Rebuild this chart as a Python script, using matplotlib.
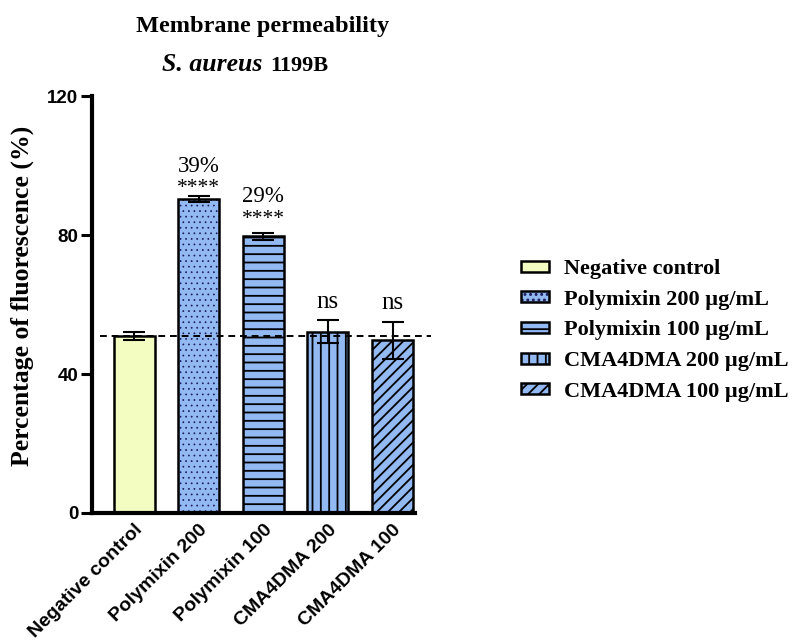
import numpy as np
import matplotlib
matplotlib.use("Agg")
import matplotlib.pyplot as plt

# data
groups = ["Negative control", "Polymixin 200", "Polymixin 100", "CMA4DMA 200", "CMA4DMA 100"]
legend_labels = ["Negative control", "Polymixin 200 \u00b5g/mL", "Polymixin 100 \u00b5g/mL",
                 "CMA4DMA 200 \u00b5g/mL", "CMA4DMA 100 \u00b5g/mL"]
means = [50.9, 90.4, 79.7, 52.1, 49.7]
errs = [1.2, 0.8, 1.0, 3.3, 5.4]
baseline = 50.9
pct_labels = ["", "39%", "29%", "", ""]
sig_labels = ["", "****", "****", "ns", "ns"]

fills = ["#F3FDC2", "#93B9F3", "#93B9F3", "#93B9F3", "#93B9F3"]
hatches = [None, "...", "--", "||", "///"]

serif = "Liberation Serif"
sans = "Liberation Sans"
plt.rcParams["hatch.linewidth"] = 1.3

fig = plt.figure(figsize=(7.92, 6.41), dpi=100)
ax = fig.add_axes([0.1162, 0.1997, 0.408, 0.6505])

x = np.arange(len(groups))
bars = ax.bar(x, means, width=0.635, color=fills, edgecolor="black", linewidth=1.8, zorder=2)
for b, h in zip(bars, hatches):
    if h:
        b.set_hatch(h)
bars[1]._hatch_color = (0.1, 0.1, 0.35, 1.0)
if hasattr(bars[1], "set_hatch_linewidth"):
    bars[1].set_hatch_linewidth(0.5)

ax.errorbar(x, means, yerr=errs, fmt="none", ecolor="black", elinewidth=1.5,
            capsize=8, capthick=1.5, zorder=3)

# dashed reference line at negative control level
ax.plot([-0.52, 4.6], [baseline, baseline], ls=(0, (3.5, 2.5)), color="black",
        lw=1.4, clip_on=False, zorder=4)

for i in range(len(groups)):
    top = means[i] + errs[i]
    if sig_labels[i] == "ns":
        ax.annotate("ns", (x[i], top), xytext=(0, 9), textcoords="offset points",
                    ha="center", va="baseline", fontsize=18, family=serif)
    elif sig_labels[i]:
        ax.annotate(sig_labels[i], (x[i], top), xytext=(0, 2 + 4 * (i - 1)),
                    textcoords="offset points", ha="center", va="baseline",
                    fontsize=15.5, family=serif)
        ax.annotate(pct_labels[i], (x[i], top), xytext=(0, 17.5 + 4.5 * (i - 1)),
                    textcoords="offset points", ha="center", va="baseline",
                    fontsize=16.5, family=serif)

ax.set_xlim(-0.65, 4.35)
ax.set_ylim(0, 120)
ax.set_yticks([0, 40, 80, 120])
ax.set_xticks(x)
ax.set_xticklabels(groups, rotation=45, ha="right", va="top", rotation_mode="anchor",
                   fontsize=14, fontweight="bold", family=sans)
for lab in ax.get_yticklabels():
    lab.set_fontsize(13.5)
    lab.set_fontweight("bold")
    lab.set_family(sans)
ax.tick_params(axis="y", length=8, width=2.2, pad=2)
ax.tick_params(axis="x", length=0, pad=6)
for s in ["top", "right"]:
    ax.spines[s].set_visible(False)
for s in ["left", "bottom"]:
    ax.spines[s].set_linewidth(3)

ax.set_ylabel("Percentage of fluorescence (%)", fontsize=18.5, fontweight="bold",
              family=serif)
ax.yaxis.set_label_coords(-0.18, 0.52)

fig.text(263 / 792, 1 - 32 / 641, "Membrane permeability", ha="center", va="baseline",
         fontsize=17.5, fontweight="bold", family=serif)
fig.text(262 / 792, 1 - 71 / 641, "S. aureus", ha="right", va="baseline",
         fontsize=18.5, fontweight="bold", style="italic", family=serif)
fig.text(270 / 792, 1 - 71 / 641, "1199B", ha="left", va="baseline",
         fontsize=16, fontweight="bold", family=serif)

leg = ax.legend(bars, legend_labels, loc="center left", bbox_to_anchor=(521 / 792, 1 - 330.5 / 641),
                bbox_transform=fig.transFigure, frameon=False, borderpad=0, borderaxespad=0,
                handlelength=1.25, handleheight=0.4, handletextpad=0.7, labelspacing=0.48,
                prop={"family": serif, "weight": "bold", "size": 16})

fig.savefig("out.png", dpi=100)
